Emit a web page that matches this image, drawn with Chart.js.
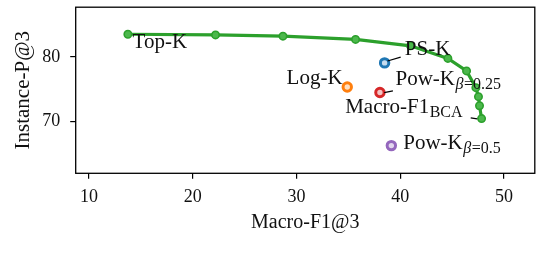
<!DOCTYPE html>
<html>
<head>
<meta charset="utf-8">
<script src="https://cdn.jsdelivr.net/npm/chart.js@4.4.1/dist/chart.umd.min.js"></script>
<style>
  html, body { margin: 0; padding: 0; background: #fff; }
  #wrap { width: 542px; height: 260px; }
</style>
</head>
<body>
<div id="wrap"><canvas id="chart" width="542" height="260"></canvas></div>
<script>
// Top-K curve (green), ending at Macro-F1_BCA
const curveX = [13.75, 22.2, 28.7, 35.7, 41.0, 44.6, 46.4, 47.3, 47.55, 47.65, 47.85];
const curveY = [83.5, 83.4, 83.2, 82.7, 81.7, 79.75, 77.8, 75.2, 73.8, 72.4, 70.4];

// single-point methods
const methodNames = ['PS-K', 'Log-K', 'Pow-K 0.25', 'Pow-K 0.5'];
const methodX = [38.5, 34.9, 38.05, 39.15];
const methodY = [79.05, 75.3, 74.45, 66.2];
const methodColors = ['#1f77b4', '#ff7f0e', '#d62728', '#9467bd'];
const methodFills = ['#c6dcef', '#ffe0c2', '#f3c4c4', '#e2d6ee'];

const xTicks = [10, 20, 30, 40, 50];
const yTicks = [70, 80];

// text labels (left x, baseline y in data units)
const labelMain = ['Top-K', 'PS-K', 'Log-K', 'Pow-K', 'Macro-F1', 'Pow-K'];
const labelSub = ['', '', '', 'β=0.25', 'BCA', 'β=0.5'];
const labelX = [14.2, 40.45, 29.05, 39.55, 34.7, 40.3];
const labelY = [81.3, 80.2, 75.8, 75.55, 71.25, 65.7];

// short connector strokes from points to labels
const connX0 = [38.78, 38.46, 46.8];
const connY0 = [79.35, 74.44, 70.5];
const connX1 = [40.05, 39.3, 47.43];
const connY1 = [79.95, 74.7, 70.35];

const serif = '"Liberation Serif", "Times New Roman", serif';

const datasets = [{
    label: 'Top-K',
    data: curveX.map((x, i) => ({ x: x, y: curveY[i] })),
    showLine: true,
    borderColor: '#2ca02c',
    borderWidth: 3.2,
    pointRadius: 3.7,
    pointBackgroundColor: '#4cb84c',
    pointBorderColor: '#2ca02c',
    pointBorderWidth: 1.6,
    order: 2
}];
methodNames.forEach((name, i) => {
    datasets.push({
        label: name,
        data: [{ x: methodX[i], y: methodY[i] }],
        pointRadius: 4.2,
        pointBorderWidth: 3,
        pointBorderColor: methodColors[i],
        pointBackgroundColor: methodFills[i],
        order: 1
    });
});

const frame = {
    id: 'frame',
    afterDatasetsDraw(chart) {
        const { ctx, chartArea: a, scales } = chart;
        ctx.save();
        ctx.strokeStyle = '#000';
        ctx.lineWidth = 1.3;
        ctx.strokeRect(a.left, a.top, a.right - a.left, a.bottom - a.top);

        // connectors
        ctx.lineWidth = 1.2;
        connX0.forEach((x0, i) => {
            ctx.beginPath();
            ctx.moveTo(scales.x.getPixelForValue(x0), scales.y.getPixelForValue(connY0[i]));
            ctx.lineTo(scales.x.getPixelForValue(connX1[i]), scales.y.getPixelForValue(connY1[i]));
            ctx.stroke();
        });

        // labels
        ctx.fillStyle = '#111';
        ctx.textBaseline = 'alphabetic';
        ctx.textAlign = 'left';
        labelMain.forEach((txt, i) => {
            const px = scales.x.getPixelForValue(labelX[i]);
            const py = scales.y.getPixelForValue(labelY[i]);
            ctx.font = '21px ' + serif;
            ctx.fillText(txt, px, py);
            let sx = px + ctx.measureText(txt).width + 0.5;
            const sub = labelSub[i];
            if (!sub) return;
            const sy = py + 4;
            if (sub[0] === 'β') {
                ctx.font = 'italic 16px ' + serif;
                ctx.fillText('β', sx, sy);
                sx += ctx.measureText('β').width + 0.5;
                ctx.font = '16px ' + serif;
                ctx.fillText(sub.slice(1), sx, sy);
            } else {
                ctx.font = '16px ' + serif;
                ctx.fillText(sub, sx, sy);
            }
        });
        ctx.restore();
    }
};

new Chart(document.getElementById('chart'), {
    type: 'scatter',
    data: { datasets: datasets },
    options: {
        responsive: false,
        animation: false,
        layout: { padding: { top: 3, right: 7, left: 0, bottom: 0 } },
        plugins: { legend: { display: false }, tooltip: { enabled: false } },
        scales: {
            x: {
                type: 'linear',
                min: 8.72,
                max: 52.98,
                afterFit: s => { s.height = 86.7; s.paddingLeft = 0; s.paddingRight = 0; },
                afterBuildTicks: s => { s.ticks = xTicks.map(v => ({ value: v })); },
                grid: { display: true, drawOnChartArea: false, drawTicks: true, tickLength: 5.5, color: '#000', lineWidth: 1.2 },
                border: { display: false },
                ticks: { color: '#111', padding: 8, font: { family: serif, size: 18 } },
                title: { display: true, text: 'Macro-F1@3', color: '#111', padding: { top: 0, bottom: 25 }, font: { family: serif, size: 20 } }
            },
            y: {
                type: 'linear',
                min: 61.9,
                max: 87.7,
                afterFit: s => { s.width = 75.7; s.paddingTop = 0; s.paddingBottom = 0; },
                afterBuildTicks: s => { s.ticks = yTicks.map(v => ({ value: v })); },
                grid: { display: true, drawOnChartArea: false, drawTicks: true, tickLength: 5.5, color: '#000', lineWidth: 1.2 },
                border: { display: false },
                ticks: { color: '#111', padding: 10, font: { family: serif, size: 18 } },
                title: { display: true, text: 'Instance-P@3', color: '#111', padding: { top: 11, bottom: 0 }, font: { family: serif, size: 21 } }
            }
        }
    },
    plugins: [frame]
});
</script>
</body>
</html>
